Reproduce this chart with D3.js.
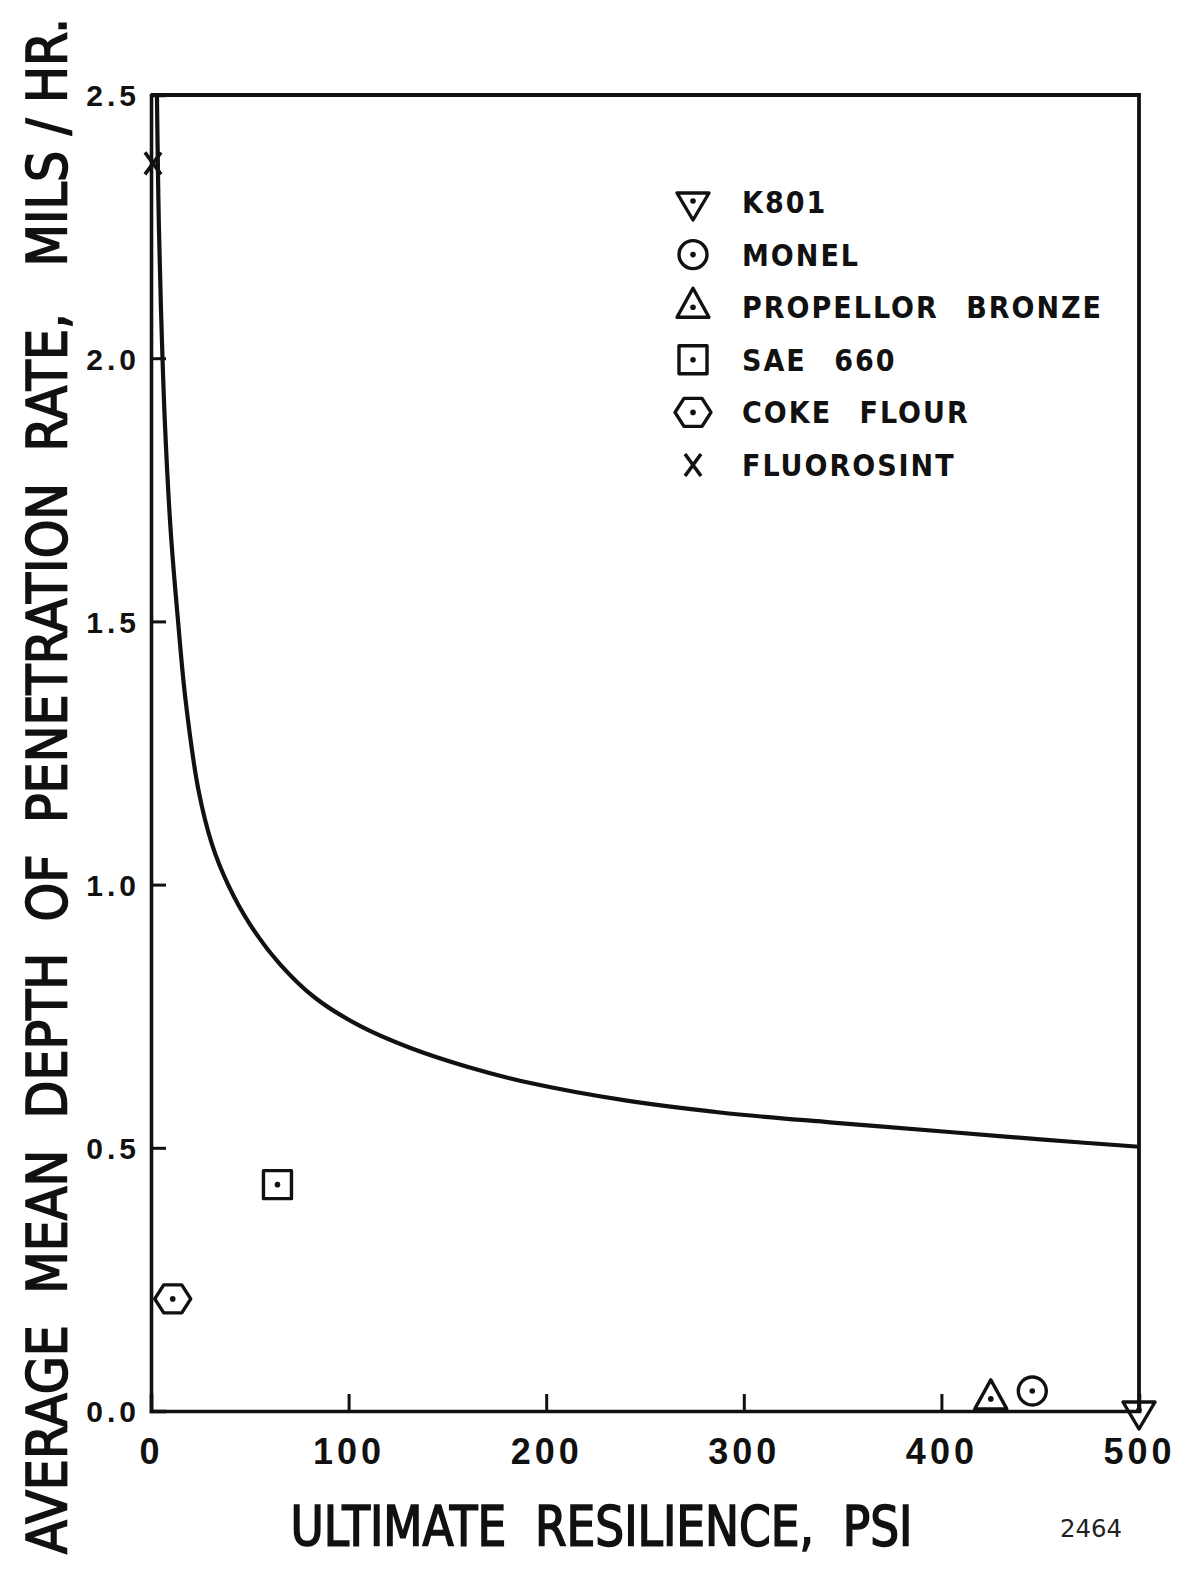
<!DOCTYPE html>
<html>
<head>
<meta charset="utf-8">
<script src="https://cdn.jsdelivr.net/npm/d3@7"></script>
<style>
  html, body { margin: 0; padding: 0; background: #fff; }
  svg { display: block; }
  .lbl { font-family: "DejaVu Sans Condensed", "Liberation Sans", Arial, sans-serif; font-weight: bold; fill: #111; white-space: pre; }
  .ttl { font-family: "DejaVu Sans Condensed", "Liberation Sans", Arial, sans-serif; font-weight: normal; fill: #111; stroke: #111; stroke-width: 1.6; white-space: pre; }
  .num { font-family: "Liberation Sans", Arial, sans-serif; font-weight: bold; fill: #111; }
  .fig { font-family: "DejaVu Sans", sans-serif; font-weight: normal; fill: #222; }
</style>
</head>
<body>
<svg id="chart" width="1187" height="1569"></svg>
<script>
// Fitted curve: average MDP rate vs ultimate resilience
const curveX = [3, 3.5, 4, 5, 7, 10, 13.7, 17.5, 24, 31, 39, 50, 65, 83, 105, 131, 160, 192, 240, 288, 345, 404, 450, 500];
const curveY = [2.5, 2.36, 2.25, 2.1, 1.88, 1.67, 1.5, 1.35, 1.18, 1.075, 1.0, 0.925, 0.85, 0.785, 0.733, 0.69, 0.654, 0.623, 0.59, 0.567, 0.548, 0.53, 0.516, 0.502];

// Test materials
const materials = ["K801", "MONEL", "PROPELLOR BRONZE", "SAE 660", "COKE FLOUR", "FLUOROSINT"];
const materialSymbols = ["triangleDown", "circle", "triangleUp", "square", "hexagon", "cross"];
const resilience = [500, 446, 425, 64, 11, 1];
const mdpRate = [0.0, 0.038, 0.023, 0.43, 0.213, 2.37];

// Axis ticks
const xTicks = [0, 100, 200, 300, 400, 500];
const yTicks = [0.0, 0.5, 1.0, 1.5, 2.0, 2.5];

const svg = d3.select("#chart");
const margin = { left: 151, right: 48, top: 95, bottom: 158 };
const W = 1187, H = 1569;

const x = d3.scaleLinear().domain([0, 500]).range([margin.left, W - margin.right]);
const y = d3.scaleLinear().domain([0, 2.5]).range([H - margin.bottom, margin.top]);

const ink = "#111";

// Frame (top and right sides)
svg.append("path")
  .attr("d", `M${x(0)},${y(2.5)} H${x(500)} V${y(0)}`)
  .attr("fill", "none").attr("stroke", ink).attr("stroke-width", 3.8);

// Left axis with inward ticks
const yAxis = svg.append("g").attr("transform", `translate(${x(0)},0)`)
  .call(d3.axisLeft(y).tickValues(yTicks).tickSize(-15).tickPadding(28)
    .tickFormat(d3.format(".1f")));
yAxis.attr("font-family", null).attr("font-size", null);
yAxis.select(".domain").attr("stroke", ink).attr("stroke-width", 3.6);
yAxis.selectAll(".tick line").attr("stroke", ink).attr("stroke-width", 3)
  .attr("display", d => (d === 0 || d === 2.5) ? "none" : null);
yAxis.selectAll(".tick text").attr("class", "num")
  .attr("font-size", 30).attr("letter-spacing", 4).attr("dy", "0.36em")
  .attr("x", -11);

// Bottom axis with inward ticks
const xAxis = svg.append("g").attr("transform", `translate(0,${y(0)})`)
  .call(d3.axisBottom(x).tickValues(xTicks).tickSize(-17).tickPadding(26)
    .tickFormat(d3.format("d")));
xAxis.attr("font-family", null).attr("font-size", null);
xAxis.select(".domain").attr("stroke", ink).attr("stroke-width", 3.6);
xAxis.selectAll(".tick line").attr("stroke", ink).attr("stroke-width", 3)
  .attr("display", d => (d === 0 || d === 500) ? "none" : null);
xAxis.selectAll(".tick text").attr("class", "num")
  .attr("font-size", 36).attr("letter-spacing", 4)
  .attr("y", 27).attr("dy", "0.71em");

// Curve
const pts = curveX.map((v, i) => [v, curveY[i]]);
svg.append("path").datum(pts)
  .attr("d", d3.line().x(d => x(d[0])).y(d => y(d[1])).curve(d3.curveCatmullRom.alpha(0.5)))
  .attr("fill", "none").attr("stroke", ink).attr("stroke-width", 4.2)
  .attr("stroke-linejoin", "round");

// Marker shapes, centred on 0,0
const shapes = {
  triangleDown: "M-16,-9 L16,-9 L0,18 Z",
  triangleUp: "M0,-19 L16,10 L-16,10 Z",
  circle: "M14,0 A14,14 0 1,1 -14,0 A14,14 0 1,1 14,0 Z",
  square: "M-14,-14 H14 V14 H-14 Z",
  hexagon: "M-18,0 L-9,-14 L9,-14 L18,0 L9,14 L-9,14 Z",
  cross: "M-8,-11 L8,11 M8,-11 L-8,11"
};

function drawMarker(g, kind) {
  g.append("path").attr("d", shapes[kind])
    .attr("fill", "none").attr("stroke", ink)
    .attr("stroke-width", kind === "cross" ? 3.6 : 3.4)
    .attr("stroke-linejoin", "round");
  if (kind !== "cross") {
    g.append("circle").attr("r", 2.8).attr("cy", kind === "triangleDown" ? -1 : 0).attr("fill", ink);
  }
}

// Data points
materials.forEach((m, i) => {
  const g = svg.append("g").attr("transform", `translate(${x(resilience[i])},${y(mdpRate[i])})`);
  drawMarker(g, materialSymbols[i]);
});

// Legend
const legend = svg.append("g").attr("transform", "translate(693,202)");
materials.forEach((m, i) => {
  const row = legend.append("g").attr("transform", `translate(0,${i * 52.6})`);
  drawMarker(row, materialSymbols[i]);
  row.append("text").attr("class", "lbl").attr("x", 49).attr("y", 11)
    .attr("font-size", 30).attr("letter-spacing", 2).attr("word-spacing", 16)
    .text(m);
});

// Axis titles
svg.append("text").attr("class", "ttl")
  .attr("transform", `translate(${W / 2 + 8},1545)`)
  .attr("text-anchor", "middle")
  .attr("font-size", 55).attr("textLength", 622).attr("lengthAdjust", "spacingAndGlyphs")
  .text("ULTIMATE  RESILIENCE,  PSI");

svg.append("text").attr("class", "ttl")
  .attr("transform", "translate(66,786) rotate(-90)")
  .attr("text-anchor", "middle")
  .attr("font-size", 55).attr("textLength", 1536).attr("lengthAdjust", "spacingAndGlyphs")
  .text("AVERAGE  MEAN  DEPTH  OF  PENETRATION  RATE,   MILS / HR.");

// Figure number
svg.append("text").attr("class", "fig")
  .attr("x", 1091).attr("y", 1537).attr("text-anchor", "middle")
  .attr("font-size", 25).attr("textLength", 62).attr("lengthAdjust", "spacingAndGlyphs")
  .text("2464");
</script>
</body>
</html>
